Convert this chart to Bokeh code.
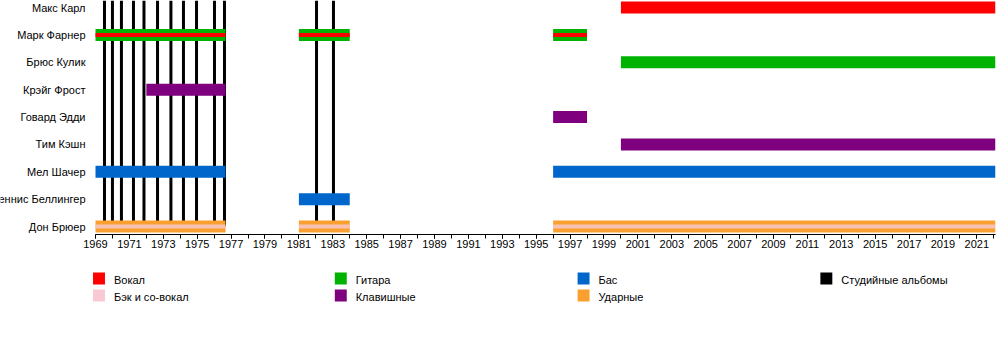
from bokeh.plotting import figure
from bokeh.layouts import column
from bokeh.models import Range1d, FixedTicker, ColumnDataSource
from bokeh.core.properties import value
from bokeh.embed import file_html
from bokeh.resources import INLINE

# ---------------- data ----------------
members = ["Макс Карл", "Марк Фарнер", "Брюс Кулик", "Крэйг Фрост", "Говард Эдди",
           "Тим Кэшн", "Мел Шачер", "Деннис Беллингер", "Дон Брюер"]

START = 1969
END = 2022.1

vocals = [("Макс Карл", 2000, END)]
vocal_stripes = [("Марк Фарнер", 1969, 1976.67), ("Марк Фарнер", 1981, 1984),
                 ("Марк Фарнер", 1996, 1998)]
guitar = [("Марк Фарнер", 1969, 1976.67), ("Марк Фарнер", 1981, 1984),
          ("Марк Фарнер", 1996, 1998), ("Брюс Кулик", 2000, END)]
keys = [("Крэйг Фрост", 1972, 1976.67), ("Говард Эдди", 1996, 1998),
        ("Тим Кэшн", 2000, END)]
bass = [("Мел Шачер", 1969, 1976.67), ("Мел Шачер", 1996, END),
        ("Деннис Беллингер", 1981, 1984)]
drums = [("Дон Брюер", 1969, 1976.67), ("Дон Брюер", 1981, 1984),
         ("Дон Брюер", 1996, END)]
backing_stripes = [("Дон Брюер", 1969, 1976.67), ("Дон Брюер", 1981, 1984),
                   ("Дон Брюер", 1996, END)]
albums = [1969.53, 1970.0, 1970.53, 1971.24, 1971.86, 1972.66, 1973.45,
          1974.19, 1974.96, 1976.02, 1976.61, 1982.04, 1983.04]

# legend, in reading order by columns
legend_keys = [["vocal", "backing"], ["guitar", "keys"], ["bass", "drums"], ["albums"]]
legend_labels = {
    "vocal": "Вокал", "backing": "Бэк и со-вокал", "guitar": "Гитара",
    "keys": "Клавишные", "bass": "Бас", "drums": "Ударные",
    "albums": "Студийные альбомы",
}
colors = {
    "vocal": "#FF0000", "backing": "#F9C9D3", "guitar": "#00B300",
    "keys": "#7F007F", "bass": "#0066CC", "drums": "#F9A030",
    "albums": "#000000",
}

year_ticks = list(range(1969, 2022, 2))
minor_ticks = list(range(1969, 2023))

# ---------------- layout ----------------
FONT = "Liberation Sans"
n = len(members)
rowidx = {m: n - 1 - i for i, m in enumerate(members)}
ROW_PX = 27.375
BAR_H = 12 / ROW_PX
STRIPE_H = 4 / ROW_PX
FRAME_H = 234
BOTTOM = 20
TOP_H = FRAME_H + BOTTOM
LEFT_PX = 95
PLOT_PX = 900
PX_PER_YEAR = PLOT_PX / (END - START)

yr = Range1d(-8 / ROW_PX, n - 1 + 7 / ROW_PX)
xr = Range1d(START - LEFT_PX / PX_PER_YEAR, END)

p = figure(width=1000, height=TOP_H, output_backend="svg", toolbar_location=None,
           x_range=xr, y_range=yr,
           min_border_left=0, min_border_right=5, min_border_top=0,
           min_border_bottom=BOTTOM)
p.outline_line_color = None
p.xgrid.visible = False
p.ygrid.visible = False
p.yaxis.visible = False

# studio album lines (behind bars)
alb_src = ColumnDataSource(dict(x=albums, bottom=[0] * len(albums),
                                top=[n + 1] * len(albums)))
p.vbar(x="x", bottom="bottom", top="top", width=3 / PX_PER_YEAR, source=alb_src,
       fill_color=colors["albums"], line_color=None)


def bars(periods, h, color, alpha=1.0):
    src = ColumnDataSource(dict(
        y=[rowidx[m] for m, s, e in periods],
        left=[s for m, s, e in periods],
        right=[e for m, s, e in periods]))
    return p.hbar(y="y", left="left", right="right", height=h, source=src,
                  fill_color=color, fill_alpha=alpha, line_color=None)


bars(guitar, BAR_H, colors["guitar"])
bars(keys, BAR_H, colors["keys"])
bars(bass, BAR_H, colors["bass"])
bars(drums, BAR_H, colors["drums"])
bars(vocals, BAR_H, colors["vocal"])
bars(vocal_stripes, STRIPE_H, colors["vocal"])
bars(backing_stripes, STRIPE_H, colors["backing"], alpha=0.8)

# member names
name_src = ColumnDataSource(dict(x=[START - 10 / PX_PER_YEAR] * n,
                                 y=[rowidx[m] for m in members], t=members))
p.text(x="x", y="y", text="t", source=name_src, text_align="right",
       text_baseline="middle", text_font=value(FONT), text_font_size="11px",
       text_color="black")

# x axis
ax = p.xaxis[0]
ax.bounds = (START, END)
ax.ticker = FixedTicker(ticks=year_ticks, minor_ticks=minor_ticks)
ax.axis_line_color = "black"
ax.major_tick_line_color = "black"
ax.minor_tick_line_color = "black"
ax.major_tick_in = 0
ax.major_tick_out = 4
ax.minor_tick_in = 0
ax.minor_tick_out = 4
ax.major_label_standoff = 1
ax.major_label_text_font = FONT
ax.major_label_text_font_size = "11px"
ax.major_label_text_color = "black"

# legend panel below
LEG_H = 350 - TOP_H
leg = figure(width=1000, height=LEG_H, output_backend="svg", toolbar_location=None,
             x_range=Range1d(0, 1000), y_range=Range1d(LEG_H, 0),
             min_border=0)
leg.axis.visible = False
leg.grid.visible = False
leg.outline_line_color = None
col_x = [93, 336, 580, 824]
row_y = [272 - TOP_H, 289 - TOP_H]
sq_x, sq_y, sq_c, tx, ty, tt = [], [], [], [], [], []
for ci, keys_col in enumerate(legend_keys):
    for ri, k in enumerate(keys_col):
        sq_x.append(col_x[ci] + 6)
        sq_y.append(row_y[ri] + 6)
        sq_c.append(colors[k])
        tx.append(col_x[ci] + 21)
        ty.append(row_y[ri] + 7)
        tt.append(legend_labels[k])
leg.rect(x=sq_x, y=sq_y, width=12, height=12, fill_color=sq_c, line_color=None)
leg.text(x=tx, y=ty, text=tt, text_align="left", text_baseline="middle",
         text_font=value(FONT), text_font_size="11px", text_color="black")

layout = column(p, leg)
open("out.html", "w").write(file_html(layout, INLINE))
